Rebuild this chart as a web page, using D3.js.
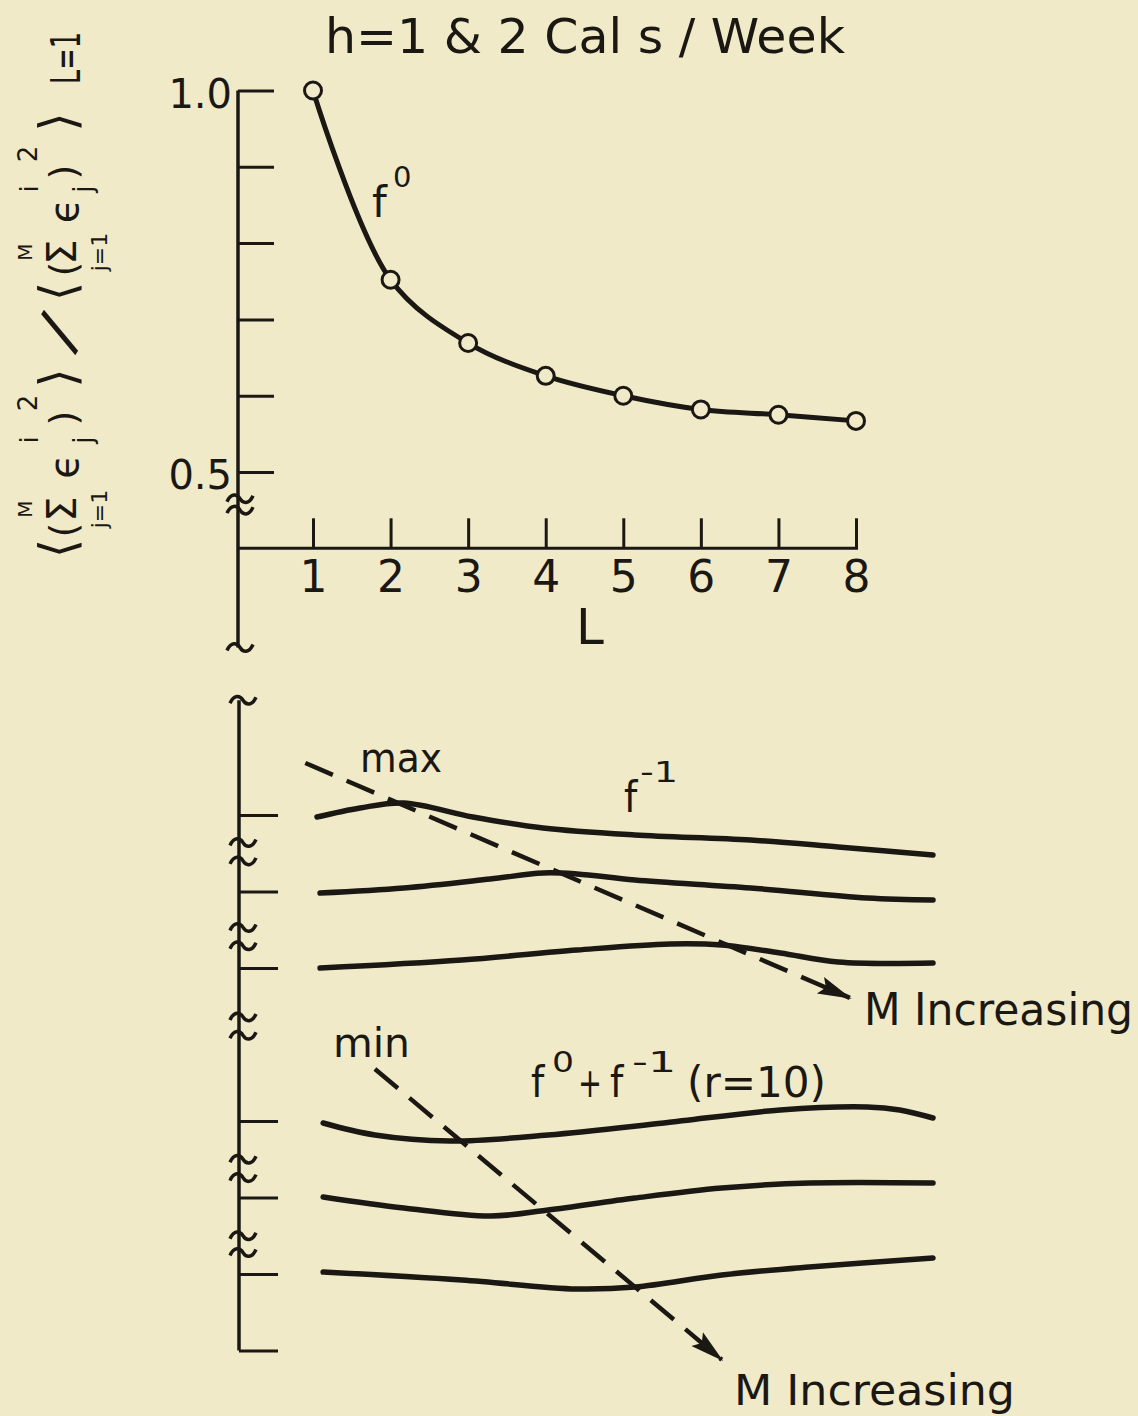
<!DOCTYPE html>
<html><head><meta charset="utf-8">
<script src="https://cdn.jsdelivr.net/npm/d3@7"></script>
<style>html,body{margin:0;padding:0;background:#f0eac9;} svg{display:block}</style>
</head><body><div id="chart"></div>
<script>
// ---------- DATA ----------
// Upper panel: ratio vs L for f^0
const L_values = [1, 2, 3, 4, 5, 6, 7, 8];
const f0_ratio = [1.0, 0.752, 0.669, 0.626, 0.600, 0.582, 0.575, 0.567];
const yTickValues = [0.5, 0.6, 0.7, 0.8, 0.9, 1.0];
const yTickLabels = ["0.5", "", "", "", "", "1.0"];
const xTickLabels = ["1", "2", "3", "4", "5", "6", "7", "8"];

// Lower panel (schematic, broken axis): horizontal position 0..10, vertical in tick units (0 = first tick)
const lowerTicks = [0, 1, 2, 4, 5, 6];
const lowerBreaks = [0.36, 0.60, 1.47, 1.71, 2.64, 2.88, 4.5, 4.74, 5.5, 5.72];
// f^-1 curves (max shifts right as M increases)
const fm1_1_pos = [0, 0.70, 1.41, 2.53, 3.67, 5.16, 7.04, 8.46, 10];
const fm1_1_val = [0.026, -0.092, -0.157, 0.026, 0.170, 0.261, 0.327, 0.418, 0.523];
const fm1_2_pos = [0.05, 1.41, 2.81, 3.67, 4.22, 5.16, 7.04, 8.93, 10];
const fm1_2_val = [1.020, 0.954, 0.837, 0.758, 0.771, 0.850, 0.954, 1.085, 1.111];
const fm1_3_pos = [0.05, 2.35, 4.22, 5.73, 6.57, 7.52, 8.46, 10];
const fm1_3_val = [2.000, 1.895, 1.765, 1.686, 1.699, 1.804, 1.922, 1.935];
// f^0 + f^-1 (r=10) curves (min shifts right as M increases)
const comb_1_pos = [0.10, 0.94, 2.16, 3.75, 5.63, 7.52, 8.93, 9.46, 10];
const comb_1_val = [4.026, 4.183, 4.261, 4.183, 4.026, 3.856, 3.817, 3.856, 3.961];
const comb_2_pos = [0.10, 1.41, 2.82, 3.75, 5.16, 6.57, 7.99, 10];
const comb_2_val = [4.993, 5.137, 5.242, 5.163, 5.007, 4.876, 4.810, 4.810];
const comb_3_pos = [0.10, 2.35, 4.22, 5.16, 6.57, 7.99, 10];
const comb_3_val = [5.974, 6.078, 6.196, 6.170, 6.013, 5.908, 5.791];
// "M increasing" trend arrows (start/end)
const maxArrow_pos = [-0.19, 8.65];
const maxArrow_val = [-0.68, 2.39];
const minArrow_pos = [0.94, 6.57];
const minArrow_val = [3.32, 7.12];

// ---------- DRAW ----------
const W = 1138, H = 1416;
const ink = "#1b1814", bg = "#f0eac9";
const svg = d3.select("#chart").append("svg").attr("width", W).attr("height", H);
svg.append("rect").attr("width", W).attr("height", H).attr("fill", bg);
const defs = svg.append("defs");
defs.append("marker").attr("id", "arr").attr("viewBox", "0 0 34 22")
  .attr("refX", 32).attr("refY", 11).attr("markerWidth", 34).attr("markerHeight", 22)
  .attr("markerUnits", "userSpaceOnUse").attr("orient", "auto")
  .append("path").attr("d", "M0,2 L34,11 L0,20 L6,11 Z").attr("fill", ink);

const font = "DejaVu Sans";
const condFont = "'DejaVu Sans Condensed','DejaVu Sans'";

// tilde break symbol
function tilde(cx, cy) {
  return `M${cx-13},${cy+3} C${cx-9},${cy-6} ${cx-3},${cy-5} ${cx},${cy} S${cx+9},${cy+6} ${cx+13},${cy-3}`;
}

// Upper panel scales
const xTop = d3.scaleLinear().domain([1, 8]).range([313, 856]);
const yTop = d3.scaleLinear().domain([0.5, 1.0]).range([472, 90.5]);
const axisX0 = 238;
const xAxisY = yTop(0.4);

// y axis line
svg.append("line").attr("x1", axisX0).attr("x2", axisX0)
  .attr("y1", yTop(1.0)).attr("y2", yTop(0.27))
  .attr("stroke", ink).attr("stroke-width", 3.5);
const yAx = svg.append("g").attr("transform", `translate(${axisX0},0)`)
  .call(d3.axisLeft(yTop).tickValues(yTickValues).tickSize(-36).tickPadding(6)
    .tickFormat((d, i) => yTickLabels[i]));
yAx.select(".domain").remove();
yAx.selectAll(".tick line").attr("stroke", ink).attr("stroke-width", 3);
yAx.selectAll(".tick text").attr("font-family", font).attr("font-size", 40)
  .attr("fill", ink).attr("dy", "0.42em");

// break symbols on upper y axis
[0.465, 0.45, 0.27].forEach(v => {
  svg.append("path").attr("d", tilde(axisX0 + 2, yTop(v)))
    .attr("fill", "none").attr("stroke", ink).attr("stroke-width", 3.5);
});

// x axis
svg.append("line").attr("x1", axisX0).attr("x2", xTop(8) + 2)
  .attr("y1", xAxisY).attr("y2", xAxisY).attr("stroke", ink).attr("stroke-width", 3);
const xAx = svg.append("g").attr("transform", `translate(0,${xAxisY})`)
  .call(d3.axisBottom(xTop).tickValues(L_values).tickSize(-30).tickPadding(12)
    .tickFormat((d, i) => xTickLabels[i]));
xAx.select(".domain").remove();
xAx.selectAll(".tick line").attr("stroke", ink).attr("stroke-width", 3);
xAx.selectAll(".tick text").attr("font-family", font).attr("font-size", 44).attr("fill", ink);

svg.append("text").attr("x", 590).attr("y", 644).attr("text-anchor", "middle")
  .attr("font-family", font).attr("font-size", 50).attr("fill", ink).text("L");

// title
svg.append("text").attr("x", 325).attr("y", 53).attr("font-family", font)
  .attr("font-size", 48).attr("fill", ink).attr("textLength", 520)
  .attr("lengthAdjust", "spacingAndGlyphs").text("h=1 & 2 Cal s / Week");

// f0 curve
const topPts = L_values.map((l, i) => [xTop(l), yTop(f0_ratio[i])]);
svg.append("path").attr("d", d3.line().curve(d3.curveCatmullRom.alpha(0.5))(topPts))
  .attr("fill", "none").attr("stroke", ink).attr("stroke-width", 5);
svg.selectAll("circle.pt").data(topPts).join("circle").attr("class", "pt")
  .attr("cx", d => d[0]).attr("cy", d => d[1]).attr("r", 8.5)
  .attr("fill", bg).attr("stroke", ink).attr("stroke-width", 3);

// f0 label
svg.append("text").attr("x", 372).attr("y", 217).attr("font-family", font)
  .attr("font-size", 42).attr("fill", ink).text("f");
svg.append("text").attr("x", 393).attr("y", 187).attr("font-family", font)
  .attr("font-size", 29).attr("fill", ink).text("0");

// Y label (rotated)
const yl = svg.append("g").attr("transform", "translate(78,560) rotate(-90)")
  .attr("font-family", font).attr("fill", ink).attr("text-anchor", "middle");
const ylPieces = [
  ["⟨", 11.5, -3, 50], ["(", 30, -2, 38], ["Σ", 51, -2, 40], ["M", 51, -46, 20], ["j=1", 51, 29, 22],
  ["ϵ", 93.5, 0, 40], ["i", 120, -40, 24], ["j", 120, 14, 26], [")", 142, -2, 38], ["2", 157, -41, 26],
  ["⟩", 182, -3, 50],
  ["⟨", 268.5, -3, 50], ["(", 291, -2, 38], ["Σ", 308, -2, 40], ["M", 308, -46, 20], ["j=1", 308, 29, 22],
  ["ϵ", 349, 0, 40], ["i", 371, -40, 24], ["j", 371, 14, 26], [")", 388, -2, 38], ["2", 406, -41, 26],
  ["⟩", 438, -3, 50]
];
ylPieces.forEach(([t, u, v, s]) => {
  yl.append("text").attr("x", u).attr("y", v).attr("font-size", s).text(t);
});
// the fraction slash: a wide, shallow slash
yl.append("text").attr("x", 0).attr("y", 0).attr("font-size", 62)
  .attr("dy", "0.33em")
  .attr("transform", "translate(228,-19) rotate(33)").text("/");
yl.append("text").attr("x", 502).attr("y", 2).attr("font-size", 40)
  .attr("textLength", 52).attr("lengthAdjust", "spacingAndGlyphs").text("L=1");

// ---------- Lower panel ----------
const xLow = d3.scaleLinear().domain([0, 10]).range([317, 933]);
const yLow = d3.scaleLinear().domain([0, 1]).range([815, 891.5]);
const lowAxisX = 239;
svg.append("line").attr("x1", lowAxisX).attr("x2", lowAxisX)
  .attr("y1", yLow(-1.5)).attr("y2", yLow(7)).attr("stroke", ink).attr("stroke-width", 3.5);
const lowAx = svg.append("g").attr("transform", `translate(${lowAxisX},0)`)
  .call(d3.axisRight(yLow).tickValues(lowerTicks.concat([7])).tickSize(39).tickFormat(""));
lowAx.select(".domain").remove();
lowAx.selectAll(".tick line").attr("stroke", ink).attr("stroke-width", 3);
[-1.5].concat(lowerBreaks).forEach(v => {
  svg.append("path").attr("d", tilde(lowAxisX + 4, yLow(v)))
    .attr("fill", "none").attr("stroke", ink).attr("stroke-width", 3.5);
});

const lowLine = d3.line().curve(d3.curveCatmullRom.alpha(0.5));
const lowerCurves = [
  [fm1_1_pos, fm1_1_val], [fm1_2_pos, fm1_2_val], [fm1_3_pos, fm1_3_val],
  [comb_1_pos, comb_1_val], [comb_2_pos, comb_2_val], [comb_3_pos, comb_3_val]
];
lowerCurves.forEach(([p, v]) => {
  svg.append("path").attr("d", lowLine(p.map((x, i) => [xLow(x), yLow(v[i])])))
    .attr("fill", "none").attr("stroke", ink).attr("stroke-width", 5.5)
    .attr("stroke-linecap", "round");
});

// dashed arrows
[[maxArrow_pos, maxArrow_val], [minArrow_pos, minArrow_val]].forEach(([p, v]) => {
  svg.append("path").attr("d", d3.line()(p.map((x, i) => [xLow(x), yLow(v[i])])))
    .attr("fill", "none").attr("stroke", ink).attr("stroke-width", 4.5)
    .attr("stroke-dasharray", "30,15").attr("marker-end", "url(#arr)");
});

// lower labels
function addText(x, y, size, txt, len, fam) {
  const t = svg.append("text").attr("x", x).attr("y", y).attr("font-family", fam || condFont)
    .attr("font-size", size).attr("fill", ink).text(txt);
  if (len) t.attr("textLength", len).attr("lengthAdjust", "spacingAndGlyphs");
  return t;
}
addText(360, 772, 40, "max", 82);
addText(333, 1057, 40, "min", 77);
addText(624, 812, 42, "f");
addText(640, 782, 28, "-1", 38);
addText(864, 1025, 44, "M Increasing", 269);
addText(734, 1405, 42, "M Increasing", 281);
addText(531, 1097, 42, "f");
addText(552, 1072, 28, "0", 22);
addText(578, 1097, 40, "+", 24);
addText(610, 1097, 42, "f");
addText(632, 1072, 28, "-1", 44);
addText(687, 1097, 42, "(r=10)", 139);
</script>
</body></html>
